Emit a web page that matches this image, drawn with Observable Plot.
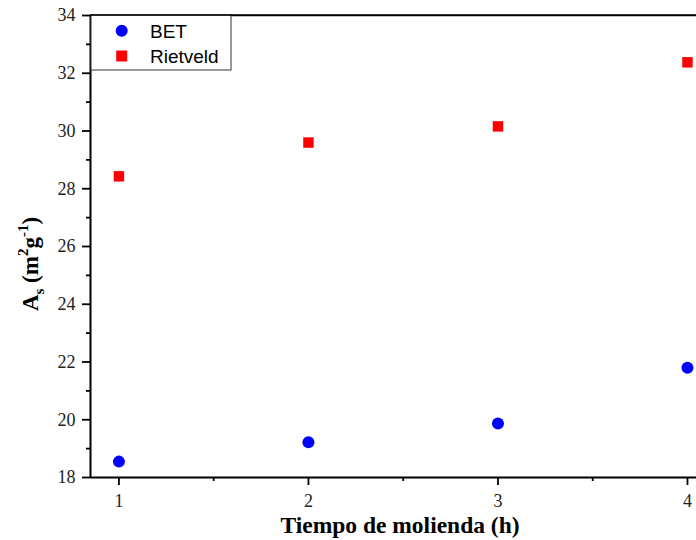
<!DOCTYPE html>
<html><head><meta charset="utf-8">
<script src="https://cdn.jsdelivr.net/npm/d3@7"></script>
<script src="https://cdn.jsdelivr.net/npm/@observablehq/plot@0.6"></script>
<style>
body{margin:0;background:#fff;}
#chart{width:696px;height:540px;overflow:hidden;position:relative;background:#fff;}
#chart svg{overflow:hidden;}
</style></head><body><div id="chart"></div>
<script>
const hours = [1, 2, 3, 4];
const betValues = [18.55, 19.22, 19.87, 21.80];
const rietveldValues = [28.43, 29.60, 30.16, 32.38];
const xTicks = [1, 2, 3, 4];
const xMinorTicks = [1.5, 2.5, 3.5];
const yTicks = [18, 20, 22, 24, 26, 28, 30, 32, 34];
const yMinorTicks = [19, 21, 23, 25, 27, 29, 31, 33];
const xDomain = [0.85, 4.15];
const yDomain = [18, 34];
const seriesNames = ["BET", "Rietveld"];
const seriesColors = ["#0000ff", "#ff0000"];
const xLabel = "Tiempo de molienda (h)";

const bet = hours.map((h, i) => ({h, v: betValues[i]}));
const riet = hours.map((h, i) => ({h, v: rietveldValues[i]}));

const serif = "'Liberation Serif', 'Times New Roman', serif";
const sans = "'Liberation Sans', Arial, sans-serif";

const plot = Plot.plot({
  width: 696, height: 540,
  marginLeft: 90, marginTop: 15, marginBottom: 63, marginRight: 0,
  style: {fontFamily: serif, fontSize: "18px", color: "#000", background: "#fff"},
  x: {domain: xDomain, range: [90, 715.4]},
  y: {domain: yDomain, range: [477, 15]},
  marks: [
    Plot.ruleY([yDomain[1]], {x1: xDomain[0], x2: xDomain[1], stroke: "#000", strokeWidth: 1.5}),
    Plot.axisX({ticks: xMinorTicks, tickSize: 4, tickFormat: () => "", strokeWidth: 1.8, label: null}),
    Plot.axisX({ticks: xTicks, tickSize: 8, tickPadding: 9, tickFormat: d => String(d), strokeWidth: 1.8, label: null, fill: "#222"}),
    Plot.axisY({ticks: yMinorTicks, tickSize: 4, tickFormat: () => "", strokeWidth: 1.8, label: null}),
    Plot.axisY({ticks: yTicks, tickSize: 8, tickPadding: 7, tickFormat: d => String(d), strokeWidth: 1.8, label: null, fill: "#222"}),
    Plot.ruleY([yDomain[0]], {x1: xDomain[0], x2: xDomain[1], stroke: "#000", strokeWidth: 2}),
    Plot.ruleX([xDomain[0]], {y1: yDomain[0], y2: yDomain[1], stroke: "#000", strokeWidth: 2}),
    Plot.dot(bet, {x: "h", y: "v", r: 6, fill: seriesColors[0], stroke: null, symbol: "circle"}),
    Plot.dot(riet, {x: "h", y: "v", r: 5.9, fill: seriesColors[1], stroke: null, symbol: "square"})
  ]
});
document.getElementById("chart").appendChild(plot);

const svg = d3.select(plot);

// x axis label
svg.append("text")
  .attr("x", 400).attr("y", 533)
  .attr("text-anchor", "middle")
  .attr("font-family", serif).attr("font-weight", "bold").attr("font-size", 23.5)
  .attr("fill", "#000")
  .text(xLabel);

// y axis label with sub/superscripts
const yl = svg.append("text")
  .attr("transform", "translate(38,264) rotate(-90)")
  .attr("text-anchor", "middle")
  .attr("font-family", serif).attr("font-weight", "bold").attr("font-size", 23)
  .attr("fill", "#000");
yl.append("tspan").text("A");
yl.append("tspan").attr("font-size", 15).attr("dy", 6).text("s");
yl.append("tspan").attr("dy", -6).text(" (m");
yl.append("tspan").attr("font-size", 15).attr("dy", -10).text("2");
yl.append("tspan").attr("dy", 10).text("g");
yl.append("tspan").attr("font-size", 15).attr("dy", -10).text("-1");
yl.append("tspan").attr("dy", 10).text(")");

// legend
const lg = svg.append("g").attr("text-anchor", "start");
lg.append("rect").attr("x", 91).attr("y", 15).attr("width", 140).attr("height", 55)
  .attr("fill", "#fff").attr("stroke", "#333").attr("stroke-width", 1);
lg.append("circle").attr("cx", 121.7).attr("cy", 30.7).attr("r", 6).attr("fill", seriesColors[0]);
lg.append("rect").attr("x", 116.2).attr("y", 50.5).attr("width", 11).attr("height", 11).attr("fill", seriesColors[1]);
lg.append("text").attr("x", 150).attr("y", 37.7).attr("text-anchor", "start").attr("font-family", sans).attr("font-size", 19).attr("fill", "#000").text(seriesNames[0]);
lg.append("text").attr("x", 150).attr("y", 62.7).attr("text-anchor", "start").attr("font-family", sans).attr("font-size", 19).attr("fill", "#000").text(seriesNames[1]);
// redraw top frame line over legend edge
svg.append("line").attr("x1", 90).attr("x2", 696).attr("y1", 15).attr("y2", 15).attr("stroke", "#000").attr("stroke-width", 1.5);
</script>
</body></html>
